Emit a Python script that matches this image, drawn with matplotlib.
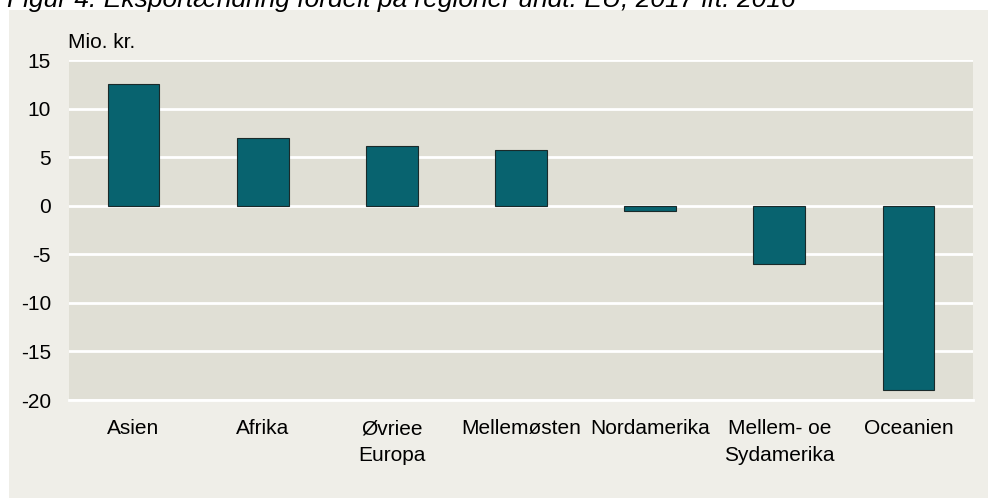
import matplotlib
matplotlib.use("Agg")
import matplotlib.pyplot as plt
from matplotlib.patches import Rectangle

categories = ["Asien", "Afrika", "Øvriee\nEuropa", "Mellemøsten", "Nordamerika", "Mellem- oe\nSydamerika", "Oceanien"]
values = [12.5, 7.0, 6.1, 5.7, -0.5, -6.0, -19.0]
yticks = [15, 10, 5, 0, -5, -10, -15, -20]

plt.rcParams['font.family'] = ['Liberation Sans', 'DejaVu Sans']

W, H = 988, 498
fig = plt.figure(figsize=(W/100, H/100), dpi=100)
fig.patch.set_facecolor('white')

# outer panel
fig.patches.append(Rectangle((9/W, 0), 1 - 9/W, 1 - 10/H, transform=fig.transFigure,
                             facecolor='#EFEEE8', edgecolor='none', zorder=-5))

ax = fig.add_axes([69/W, 1 - 400/H, (973-69)/W, (400-60)/H])
ax.set_zorder(2)
ax.set_facecolor('#E0DFD5')
x = range(len(categories))
ax.bar(x, values, width=0.4, color='#08636F', edgecolor='#1a2a2a', linewidth=0.8, zorder=3)
ax.set_xlim(-0.5, len(categories) - 0.5)
ax.set_ylim(-20, 15)
ax.set_yticks(yticks)
ax.set_yticklabels([str(t) for t in yticks], fontsize=15)
ax.yaxis.grid(True, color='white', linewidth=2)
ax.set_axisbelow(True)
ax.set_xticks(list(x))
ax.set_xticklabels(categories, fontsize=15, linespacing=1.5, va='top')
ax.tick_params(axis='both', length=0)
ax.tick_params(axis='x', pad=14)
ax.tick_params(axis='y', pad=13)
for s in ax.spines.values():
    s.set_visible(False)
ax.axhline(-20, color='white', linewidth=2, zorder=1, clip_on=False)

fig.text(68/W, 1 - 42/H, "Mio. kr.", fontsize=15, va='center', ha='left', zorder=5)
fig.text(7/W, 1 - 7/H, "Figur 4. Eksportændring fordelt på regioner undt. EU, 2017 ift. 2016",
         fontsize=19, style='italic', va='baseline', ha='left', zorder=5)

fig.savefig("out.png", dpi=100, facecolor=fig.get_facecolor())
